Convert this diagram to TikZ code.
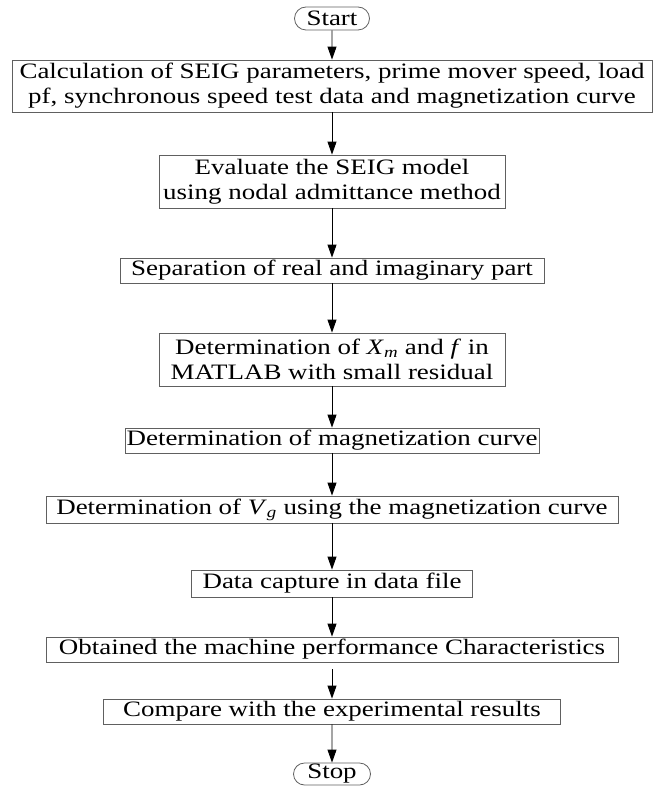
\documentclass[tikz,border=0pt]{standalone}
\usepackage{fontspec}
\setmainfont{Liberation Serif}[FakeStretch=1.225]
\usetikzlibrary{arrows.meta,shapes.misc}
\definecolor{boxgray}{HTML}{606060}
\begin{document}
\begin{tikzpicture}[x=1pt,y=-1pt,
  every node/.style={font=\fontsize{22}{25}\selectfont, inner sep=0pt, align=center},
  procbox/.style={draw=boxgray, line width=0.8pt, rectangle},
  termbox/.style={draw=boxgray, line width=0.8pt, rounded rectangle},
  arr/.style={-{Triangle[length=13pt,width=9pt]}, line width=0.9pt, black}]
\useasboundingbox (0,0) rectangle (654,791);
\node[termbox, minimum width=75pt, minimum height=23pt] (start) at (332,18.5) {Start};
\node[procbox, minimum width=640pt, minimum height=52pt] (b1) at (332,86)
  {Calculation of SEIG parameters, prime mover speed, load\\pf, synchronous speed test data and magnetization curve};
\node[procbox, minimum width=346pt, minimum height=53pt] (b2) at (332,181.5)
  {Evaluate the SEIG model\\using nodal admittance method};
\node[procbox, minimum width=424pt, minimum height=25pt] (b3) at (332,270.5)
  {Separation of real and imaginary part};
\node[procbox, minimum width=346pt, minimum height=53pt] (b4) at (332,359.5)
  {Determination of \textit{X}\textsubscript{\textit{m}} and \textit{f} in\\MATLAB with small residual};
\node[procbox, minimum width=414pt, minimum height=25pt] (b5) at (332,440.5)
  {Determination of magnetization curve};
\node[procbox, minimum width=572pt, minimum height=27pt] (b6) at (332,509.5)
  {Determination of \textit{V}\textsubscript{\textit{g}} using the magnetization curve};
\node[procbox, minimum width=281pt, minimum height=27pt] (b7) at (332,583.5)
  {Data capture in data file};
\node[procbox, minimum width=572pt, minimum height=25pt] (b8) at (332,649.5)
  {Obtained the machine performance Characteristics};
\node[procbox, minimum width=457pt, minimum height=25pt] (b9) at (332,711.5)
  {Compare with the experimental results};
\node[termbox, minimum width=77pt, minimum height=22pt] (stop) at (332,774) {Stop};
\draw[arr] (start) -- (b1);
\draw[arr] (b1) -- (b2);
\draw[arr] (b2) -- (b3);
\draw[arr] (b3) -- (b4);
\draw[arr] (b4) -- (b5);
\draw[arr] (b5) -- (b6);
\draw[arr] (b6) -- (b7);
\draw[arr] (b7) -- (b8);
\draw[arr, shorten <=7pt] (b8) -- (b9);
\draw[arr] (b9) -- (stop);
\end{tikzpicture}
\end{document}
